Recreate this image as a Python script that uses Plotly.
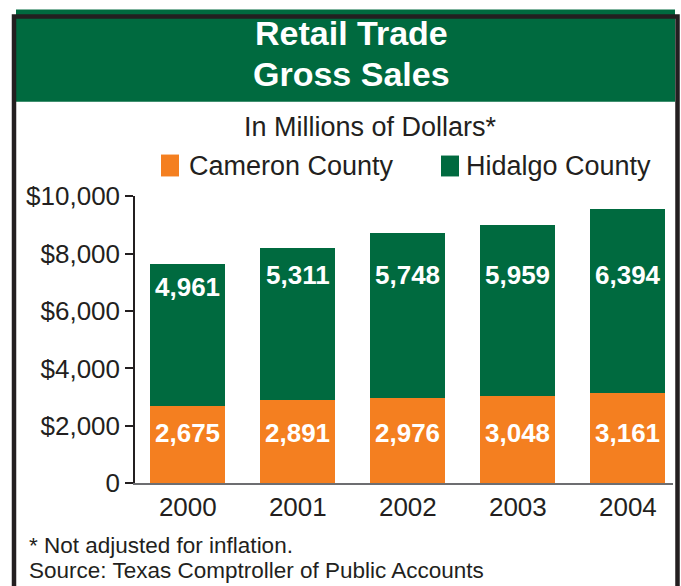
import plotly.graph_objects as go

# === Data
years = [2000, 2001, 2002, 2003, 2004]
cameron = [2675, 2891, 2976, 3048, 3161]
hidalgo = [4961, 5311, 5748, 5959, 6394]
series_names = ["Cameron County", "Hidalgo County"]
tick_vals = [0, 2000, 4000, 6000, 8000, 10000]
tick_text = ["0", "$2,000", "$4,000", "$6,000", "$8,000", "$10,000"]

ORANGE = "#f47f20"
GREEN = "#006a3f"
INK = "#231f20"
FONT = "Liberation Sans, Arial, sans-serif"

W, H = 681, 586
# the page shows up squeezed a bit vertically, so pixel rows are mapped back
Y_OFF, Y_SCALE = 12.9, 0.9526


def px(x):
    return x / W


def py(y):
    y = (y - Y_OFF) / Y_SCALE
    return 1 - y / H


fig = go.Figure()
fig.add_trace(go.Bar(x=years, y=cameron, name=series_names[0],
                     marker=dict(color=ORANGE, line=dict(width=0)), width=0.68))
fig.add_trace(go.Bar(x=years, y=hidalgo, name=series_names[1],
                     marker=dict(color=GREEN, line=dict(width=0)), width=0.68))

# frame + green header banner
shapes = [
    dict(type="rect", xref="paper", yref="paper",
         x0=px(16), x1=px(675), y0=py(100), y1=1.01,
         fillcolor=GREEN, line=dict(width=0), layer="below"),
    dict(type="rect", xref="paper", yref="paper",
         x0=px(14), x1=px(677.5), y0=-0.1, y1=1 - 1.5 / H,
         line=dict(color=INK, width=4.5)),
    # legend swatches
    dict(type="rect", xref="paper", yref="paper",
         x0=px(161), x1=px(179), y0=py(175), y1=py(153),
         fillcolor=ORANGE, line=dict(width=0)),
    dict(type="rect", xref="paper", yref="paper",
         x0=px(441), x1=px(459), y0=py(175), y1=py(154),
         fillcolor=GREEN, line=dict(width=0)),
]

annotations = [
    dict(text="<b>Retail Trade</b>", x=px(351), y=py(31), font=dict(size=34, color="white")),
    dict(text="<b>Gross Sales</b>", x=px(351), y=py(72), font=dict(size=34, color="white")),
    dict(text="In Millions of Dollars*", x=px(370), y=py(125), font=dict(size=27, color=INK)),
    dict(text=series_names[0], x=px(187), y=py(165), xanchor="left", font=dict(size=27, color=INK)),
    dict(text=series_names[1], x=px(464), y=py(165), xanchor="left", font=dict(size=27, color=INK)),
    dict(text="* Not adjusted for inflation.", x=px(27), y=py(546), xanchor="left",
         font=dict(size=22.5, color=INK)),
    dict(text="Source: Texas Comptroller of Public Accounts", x=px(27), y=py(571), xanchor="left",
         font=dict(size=22.5, color=INK)),
]
for a in annotations:
    a.update(xref="paper", yref="paper", showarrow=False)
    a.setdefault("xanchor", "center")
    a["yanchor"] = "middle"
    a["font"]["family"] = FONT

# value labels on the bars
for yr, c, h in zip(years, cameron, hidalgo):
    annotations.append(dict(
        text=f"<b>{c:,}</b>", x=yr, y=1750, xref="x", yref="y", showarrow=False,
        yanchor="middle", font=dict(family=FONT, size=26, color="white")))
    annotations.append(dict(
        text=f"<b>{h:,}</b>", x=yr, y=min(c + h - 780, 7250), xref="x", yref="y",
        showarrow=False, yanchor="middle", font=dict(family=FONT, size=26, color="white")))

fig.update_layout(
    width=W, height=H, autosize=False,
    margin=dict(l=0, r=0, t=0, b=0),
    paper_bgcolor="white", plot_bgcolor="white",
    barmode="stack", showlegend=False,
    font=dict(family=FONT, color=INK),
    shapes=shapes, annotations=annotations,
    xaxis=dict(
        domain=[px(135), px(673)], range=[years[0] - 0.48, years[-1] + 0.41],
        tickvals=years, ticktext=[str(y) for y in years],
        showline=True, linecolor="#6d6e71", linewidth=2, ticks="",
        showgrid=False, zeroline=False, tickfont=dict(size=26, color=INK),
    ),
    yaxis=dict(
        domain=[py(483), py(195)], range=[0, 10000],
        showline=True, linecolor=INK, linewidth=1.5,
        ticks="outside", ticklen=8, tickwidth=1.5, tickcolor=INK,
        tickvals=tick_vals, ticktext=tick_text,
        showgrid=False, zeroline=False, tickfont=dict(size=26, color=INK),
    ),
)

# pin the fixed-size figure to the window's top-left corner
pin = (
    "document.body.style.margin = '0';"
    "document.documentElement.style.overflow = 'hidden';"
    "var gd = document.getElementById('{plot_id}');"
    "gd.style.position = 'fixed'; gd.style.top = '0'; gd.style.left = '0';"
)
fig.write_html("out.html", config=dict(displayModeBar=False), post_script=pin)
